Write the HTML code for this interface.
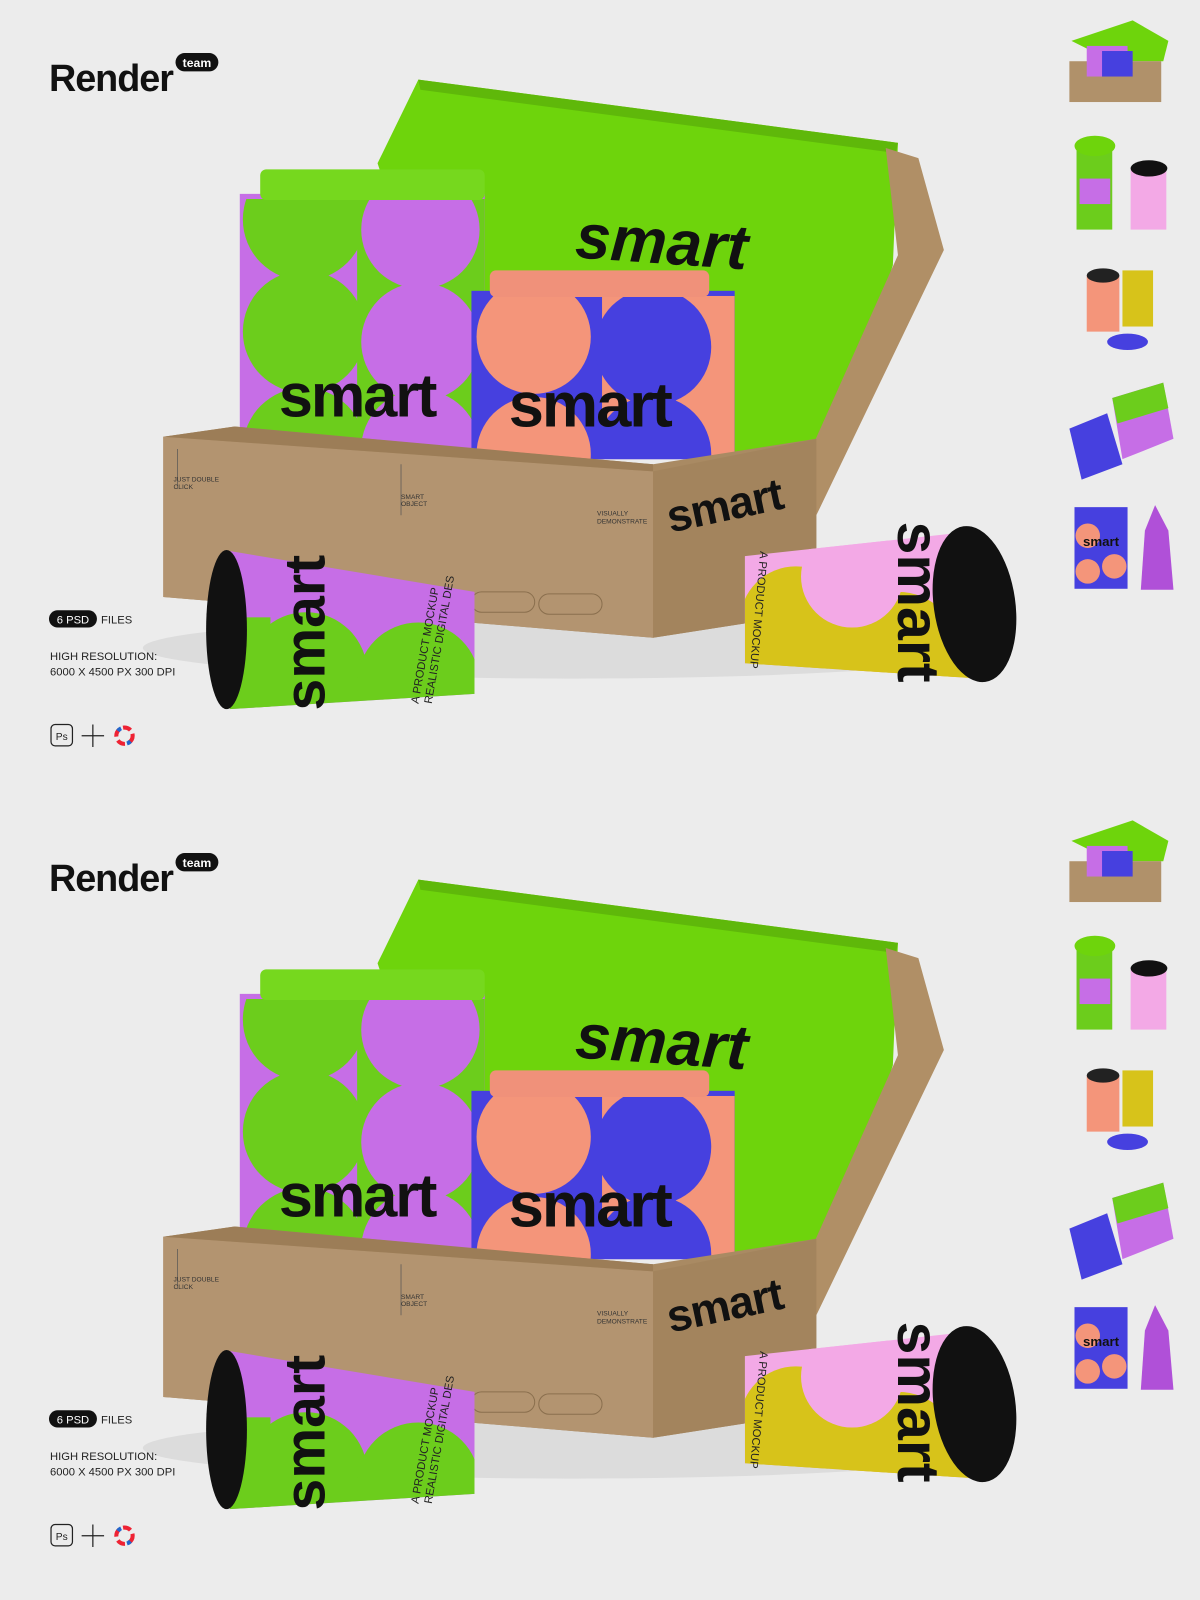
<!DOCTYPE html>
<html><head><meta charset="utf-8"><style>
html,body{margin:0;padding:0;background:#ececec;width:1200px;height:1600px;overflow:hidden}
svg{display:block}
text{font-family:"Liberation Sans",sans-serif}
</style></head><body>
<svg width="1200" height="1600" viewBox="0 0 1176 1568" xmlns="http://www.w3.org/2000/svg">
<defs>
<clipPath id="cg"><rect x="235" y="195" width="240" height="250"/></clipPath>
<clipPath id="co"><rect x="462" y="290" width="258" height="160"/></clipPath>
<clipPath id="cl"><polygon points="225,540 465,580 465,680 225,695"/></clipPath>
<clipPath id="cr"><polygon points="730,545 960,520 960,665 730,650"/></clipPath>
</defs>
<rect width="1176" height="1568" fill="#ececec"/>
<g>
<text x="48" y="89" font-size="37" font-weight="bold" fill="#111" letter-spacing="-1">Render</text>
<rect x="172" y="52" width="42" height="18" rx="9" fill="#111"/>
<text x="193" y="65.5" font-size="12" font-weight="bold" fill="#fff" text-anchor="middle">team</text>
<ellipse cx="560" cy="635" rx="420" ry="30" fill="#dcdcdc"/>
<polygon points="370,160 410,78 880,140 875,260 800,500 700,450 460,430" fill="#6ed40c"/>
<polygon points="410,78 880,140 878,150 412,88" fill="#5fb80a"/>
<polygon points="868,145 900,155 925,245 800,505 795,440 880,250" fill="#b08f66"/>
<text x="648" y="258" font-size="62" font-weight="bold" font-style="italic" fill="#111" text-anchor="middle" transform="rotate(4 645 245)">smart</text>
<rect x="235" y="190" width="240" height="255" fill="#c66ee6"/>
<g clip-path="url(#cg)">
<circle cx="298" cy="215" r="60" fill="#6ccd1c"/>
<circle cx="298" cy="325" r="60" fill="#6ccd1c"/>
<circle cx="298" cy="440" r="60" fill="#6ccd1c"/>
<rect x="350" y="190" width="125" height="260" fill="#6ccd1c"/>
<circle cx="412" cy="225" r="58" fill="#c66ee6"/>
<circle cx="412" cy="335" r="58" fill="#c66ee6"/>
<circle cx="412" cy="440" r="58" fill="#c66ee6"/>
</g>
<rect x="255" y="166" width="220" height="30" rx="6" fill="#76d81e"/>
<text x="350" y="408" font-size="60" font-weight="bold" fill="#111" text-anchor="middle" letter-spacing="-2">smart</text>
<rect x="462" y="285" width="258" height="165" fill="#4640df"/>
<g clip-path="url(#co)">
<circle cx="523" cy="330" r="56" fill="#f4957a"/>
<circle cx="523" cy="445" r="56" fill="#f4957a"/>
<rect x="590" y="290" width="130" height="160" fill="#f4957a"/>
<circle cx="640" cy="340" r="57" fill="#4640df"/>
<circle cx="640" cy="445" r="57" fill="#4640df"/>
</g>
<rect x="480" y="265" width="215" height="26" rx="6" fill="#f0917a"/>
<text x="578" y="418" font-size="62" font-weight="bold" fill="#111" text-anchor="middle" letter-spacing="-2">smart</text>
<polygon points="160,428 230,418 470,440 640,455 800,430 800,600 640,625 160,585" fill="#a98a63"/>
<polygon points="160,428 640,462 640,625 160,585" fill="#b39470"/>
<polygon points="640,462 800,430 800,600 640,625" fill="#a3845d"/>
<polygon points="160,428 230,418 640,455 640,462" fill="#9c7d57"/>
<line x1="174" y1="440" x2="174" y2="478" stroke="#555" stroke-width="0.7"/>
<text x="170" y="472" font-size="6.5" fill="#333">JUST DOUBLE</text><text x="170" y="479" font-size="6.5" fill="#333">CLICK</text>
<line x1="393" y1="455" x2="393" y2="505" stroke="#555" stroke-width="0.7"/>
<text x="393" y="489" font-size="6.5" fill="#333">SMART</text><text x="393" y="496" font-size="6.5" fill="#333">OBJECT</text>
<text x="585" y="505" font-size="6.5" fill="#333">VISUALLY</text><text x="585" y="513" font-size="6.5" fill="#333">DEMONSTRATE</text>
<rect x="462" y="580" width="62" height="20" rx="10" fill="none" stroke="#8a6f4e"/>
<rect x="528" y="582" width="62" height="20" rx="10" fill="none" stroke="#8a6f4e"/>
<text x="657" y="522" font-size="44" font-weight="bold" fill="#111" transform="rotate(-12 657 522)" letter-spacing="-1">smart</text>
<polygon points="225,540 465,580 465,680 225,695" fill="#c66ee6"/>
<g clip-path="url(#cl)">
<circle cx="300" cy="660" r="60" fill="#6ccd1c"/>
<circle cx="410" cy="670" r="60" fill="#6ccd1c"/>
<rect x="225" y="605" width="40" height="100" fill="#6ccd1c"/>
</g>
<ellipse cx="222" cy="617" rx="20" ry="78" fill="#111"/>
<text x="318" y="620" font-size="56" font-weight="bold" fill="#111" transform="rotate(-90 318 620)" text-anchor="middle">smart</text>
<text x="410" y="690" font-size="11" fill="#222" transform="rotate(-80 410 690)">A PRODUCT MOCKUP</text>
<text x="423" y="690" font-size="11" fill="#222" transform="rotate(-80 423 690)">REALISTIC DIGITAL DES</text>
<polygon points="730,545 960,520 960,665 730,650" fill="#f3a9e6"/>
<g clip-path="url(#cr)">
<circle cx="780" cy="610" r="55" fill="#d7c31a"/>
<circle cx="880" cy="640" r="60" fill="#d7c31a"/>
<rect x="730" y="610" width="230" height="60" fill="#d7c31a"/>
<circle cx="835" cy="565" r="50" fill="#f3a9e6"/>
</g>
<ellipse cx="955" cy="592" rx="40" ry="77" fill="#111" transform="rotate(-8 955 592)"/>
<text x="880" y="590" font-size="58" font-weight="bold" fill="#111" transform="rotate(90 880 590)" text-anchor="middle">smart</text>
<text x="745" y="540" font-size="11" fill="#222" transform="rotate(95 745 540)">A PRODUCT MOCKUP</text>
<rect x="48" y="598" width="47" height="17" rx="8.5" fill="#111"/>
<text x="71.5" y="611" font-size="11" fill="#fff" text-anchor="middle">6 PSD</text>
<text x="99" y="611" font-size="11" fill="#222">FILES</text>
<text x="49" y="647" font-size="11" fill="#222">HIGH RESOLUTION:</text>
<text x="49" y="662" font-size="11" fill="#222">6000 X 4500 PX 300 DPI</text>
<rect x="50" y="710" width="21" height="21" rx="4" fill="none" stroke="#222" stroke-width="1.2"/>
<text x="60.5" y="725" font-size="10" fill="#222" text-anchor="middle">Ps</text>
<path d="M91 710v22M80 721h22" stroke="#222" stroke-width="1.2"/>
<circle cx="122" cy="721" r="8" fill="none" stroke="#e23" stroke-width="4" stroke-dasharray="8 4"/>
<circle cx="122" cy="721" r="8" fill="none" stroke="#26c" stroke-width="4" stroke-dasharray="4 20" stroke-dashoffset="-6"/>
<polygon points="1050,40 1110,20 1145,40 1140,60 1090,60" fill="#6ed40c"/>
<rect x="1048" y="60" width="90" height="40" fill="#b0916a"/>
<rect x="1065" y="45" width="40" height="30" fill="#c66ee6"/>
<rect x="1080" y="50" width="30" height="25" fill="#4640df"/>
<rect x="1055" y="140" width="35" height="85" fill="#6ccd1c"/><ellipse cx="1073" cy="143" rx="20" ry="10" fill="#6ed40c"/>
<rect x="1058" y="175" width="30" height="25" fill="#c66ee6"/>
<rect x="1108" y="165" width="35" height="60" fill="#f3a9e6"/><ellipse cx="1126" cy="165" rx="18" ry="8" fill="#111"/>
<rect x="1065" y="270" width="32" height="55" fill="#f4957a"/><ellipse cx="1081" cy="270" rx="16" ry="7" fill="#222"/>
<rect x="1100" y="265" width="30" height="55" fill="#d7c31a"/>
<ellipse cx="1105" cy="335" rx="20" ry="8" fill="#4640df"/>
<polygon points="1048,420 1085,405 1100,455 1060,470" fill="#4640df"/>
<polygon points="1090,390 1140,375 1150,430 1100,450" fill="#c66ee6"/>
<polygon points="1090,390 1140,375 1145,400 1095,415" fill="#6ccd1c"/>
<rect x="1053" y="497" width="52" height="80" fill="#4640df"/>
<circle cx="1066" cy="525" r="12" fill="#f4957a"/><circle cx="1092" cy="555" r="12" fill="#f4957a"/><circle cx="1066" cy="560" r="12" fill="#f4957a"/>
<text x="1079" y="535" font-size="13" font-weight="bold" fill="#111" text-anchor="middle">smart</text>
<polygon points="1132,495 1145,520 1150,578 1118,578 1122,520" fill="#b050d8"/>
</g>
<g transform="translate(0,784)">
<text x="48" y="89" font-size="37" font-weight="bold" fill="#111" letter-spacing="-1">Render</text>
<rect x="172" y="52" width="42" height="18" rx="9" fill="#111"/>
<text x="193" y="65.5" font-size="12" font-weight="bold" fill="#fff" text-anchor="middle">team</text>
<ellipse cx="560" cy="635" rx="420" ry="30" fill="#dcdcdc"/>
<polygon points="370,160 410,78 880,140 875,260 800,500 700,450 460,430" fill="#6ed40c"/>
<polygon points="410,78 880,140 878,150 412,88" fill="#5fb80a"/>
<polygon points="868,145 900,155 925,245 800,505 795,440 880,250" fill="#b08f66"/>
<text x="648" y="258" font-size="62" font-weight="bold" font-style="italic" fill="#111" text-anchor="middle" transform="rotate(4 645 245)">smart</text>
<rect x="235" y="190" width="240" height="255" fill="#c66ee6"/>
<g clip-path="url(#cg)">
<circle cx="298" cy="215" r="60" fill="#6ccd1c"/>
<circle cx="298" cy="325" r="60" fill="#6ccd1c"/>
<circle cx="298" cy="440" r="60" fill="#6ccd1c"/>
<rect x="350" y="190" width="125" height="260" fill="#6ccd1c"/>
<circle cx="412" cy="225" r="58" fill="#c66ee6"/>
<circle cx="412" cy="335" r="58" fill="#c66ee6"/>
<circle cx="412" cy="440" r="58" fill="#c66ee6"/>
</g>
<rect x="255" y="166" width="220" height="30" rx="6" fill="#76d81e"/>
<text x="350" y="408" font-size="60" font-weight="bold" fill="#111" text-anchor="middle" letter-spacing="-2">smart</text>
<rect x="462" y="285" width="258" height="165" fill="#4640df"/>
<g clip-path="url(#co)">
<circle cx="523" cy="330" r="56" fill="#f4957a"/>
<circle cx="523" cy="445" r="56" fill="#f4957a"/>
<rect x="590" y="290" width="130" height="160" fill="#f4957a"/>
<circle cx="640" cy="340" r="57" fill="#4640df"/>
<circle cx="640" cy="445" r="57" fill="#4640df"/>
</g>
<rect x="480" y="265" width="215" height="26" rx="6" fill="#f0917a"/>
<text x="578" y="418" font-size="62" font-weight="bold" fill="#111" text-anchor="middle" letter-spacing="-2">smart</text>
<polygon points="160,428 230,418 470,440 640,455 800,430 800,600 640,625 160,585" fill="#a98a63"/>
<polygon points="160,428 640,462 640,625 160,585" fill="#b39470"/>
<polygon points="640,462 800,430 800,600 640,625" fill="#a3845d"/>
<polygon points="160,428 230,418 640,455 640,462" fill="#9c7d57"/>
<line x1="174" y1="440" x2="174" y2="478" stroke="#555" stroke-width="0.7"/>
<text x="170" y="472" font-size="6.5" fill="#333">JUST DOUBLE</text><text x="170" y="479" font-size="6.5" fill="#333">CLICK</text>
<line x1="393" y1="455" x2="393" y2="505" stroke="#555" stroke-width="0.7"/>
<text x="393" y="489" font-size="6.5" fill="#333">SMART</text><text x="393" y="496" font-size="6.5" fill="#333">OBJECT</text>
<text x="585" y="505" font-size="6.5" fill="#333">VISUALLY</text><text x="585" y="513" font-size="6.5" fill="#333">DEMONSTRATE</text>
<rect x="462" y="580" width="62" height="20" rx="10" fill="none" stroke="#8a6f4e"/>
<rect x="528" y="582" width="62" height="20" rx="10" fill="none" stroke="#8a6f4e"/>
<text x="657" y="522" font-size="44" font-weight="bold" fill="#111" transform="rotate(-12 657 522)" letter-spacing="-1">smart</text>
<polygon points="225,540 465,580 465,680 225,695" fill="#c66ee6"/>
<g clip-path="url(#cl)">
<circle cx="300" cy="660" r="60" fill="#6ccd1c"/>
<circle cx="410" cy="670" r="60" fill="#6ccd1c"/>
<rect x="225" y="605" width="40" height="100" fill="#6ccd1c"/>
</g>
<ellipse cx="222" cy="617" rx="20" ry="78" fill="#111"/>
<text x="318" y="620" font-size="56" font-weight="bold" fill="#111" transform="rotate(-90 318 620)" text-anchor="middle">smart</text>
<text x="410" y="690" font-size="11" fill="#222" transform="rotate(-80 410 690)">A PRODUCT MOCKUP</text>
<text x="423" y="690" font-size="11" fill="#222" transform="rotate(-80 423 690)">REALISTIC DIGITAL DES</text>
<polygon points="730,545 960,520 960,665 730,650" fill="#f3a9e6"/>
<g clip-path="url(#cr)">
<circle cx="780" cy="610" r="55" fill="#d7c31a"/>
<circle cx="880" cy="640" r="60" fill="#d7c31a"/>
<rect x="730" y="610" width="230" height="60" fill="#d7c31a"/>
<circle cx="835" cy="565" r="50" fill="#f3a9e6"/>
</g>
<ellipse cx="955" cy="592" rx="40" ry="77" fill="#111" transform="rotate(-8 955 592)"/>
<text x="880" y="590" font-size="58" font-weight="bold" fill="#111" transform="rotate(90 880 590)" text-anchor="middle">smart</text>
<text x="745" y="540" font-size="11" fill="#222" transform="rotate(95 745 540)">A PRODUCT MOCKUP</text>
<rect x="48" y="598" width="47" height="17" rx="8.5" fill="#111"/>
<text x="71.5" y="611" font-size="11" fill="#fff" text-anchor="middle">6 PSD</text>
<text x="99" y="611" font-size="11" fill="#222">FILES</text>
<text x="49" y="647" font-size="11" fill="#222">HIGH RESOLUTION:</text>
<text x="49" y="662" font-size="11" fill="#222">6000 X 4500 PX 300 DPI</text>
<rect x="50" y="710" width="21" height="21" rx="4" fill="none" stroke="#222" stroke-width="1.2"/>
<text x="60.5" y="725" font-size="10" fill="#222" text-anchor="middle">Ps</text>
<path d="M91 710v22M80 721h22" stroke="#222" stroke-width="1.2"/>
<circle cx="122" cy="721" r="8" fill="none" stroke="#e23" stroke-width="4" stroke-dasharray="8 4"/>
<circle cx="122" cy="721" r="8" fill="none" stroke="#26c" stroke-width="4" stroke-dasharray="4 20" stroke-dashoffset="-6"/>
<polygon points="1050,40 1110,20 1145,40 1140,60 1090,60" fill="#6ed40c"/>
<rect x="1048" y="60" width="90" height="40" fill="#b0916a"/>
<rect x="1065" y="45" width="40" height="30" fill="#c66ee6"/>
<rect x="1080" y="50" width="30" height="25" fill="#4640df"/>
<rect x="1055" y="140" width="35" height="85" fill="#6ccd1c"/><ellipse cx="1073" cy="143" rx="20" ry="10" fill="#6ed40c"/>
<rect x="1058" y="175" width="30" height="25" fill="#c66ee6"/>
<rect x="1108" y="165" width="35" height="60" fill="#f3a9e6"/><ellipse cx="1126" cy="165" rx="18" ry="8" fill="#111"/>
<rect x="1065" y="270" width="32" height="55" fill="#f4957a"/><ellipse cx="1081" cy="270" rx="16" ry="7" fill="#222"/>
<rect x="1100" y="265" width="30" height="55" fill="#d7c31a"/>
<ellipse cx="1105" cy="335" rx="20" ry="8" fill="#4640df"/>
<polygon points="1048,420 1085,405 1100,455 1060,470" fill="#4640df"/>
<polygon points="1090,390 1140,375 1150,430 1100,450" fill="#c66ee6"/>
<polygon points="1090,390 1140,375 1145,400 1095,415" fill="#6ccd1c"/>
<rect x="1053" y="497" width="52" height="80" fill="#4640df"/>
<circle cx="1066" cy="525" r="12" fill="#f4957a"/><circle cx="1092" cy="555" r="12" fill="#f4957a"/><circle cx="1066" cy="560" r="12" fill="#f4957a"/>
<text x="1079" y="535" font-size="13" font-weight="bold" fill="#111" text-anchor="middle">smart</text>
<polygon points="1132,495 1145,520 1150,578 1118,578 1122,520" fill="#b050d8"/>
</g>
</svg>
</body></html>
